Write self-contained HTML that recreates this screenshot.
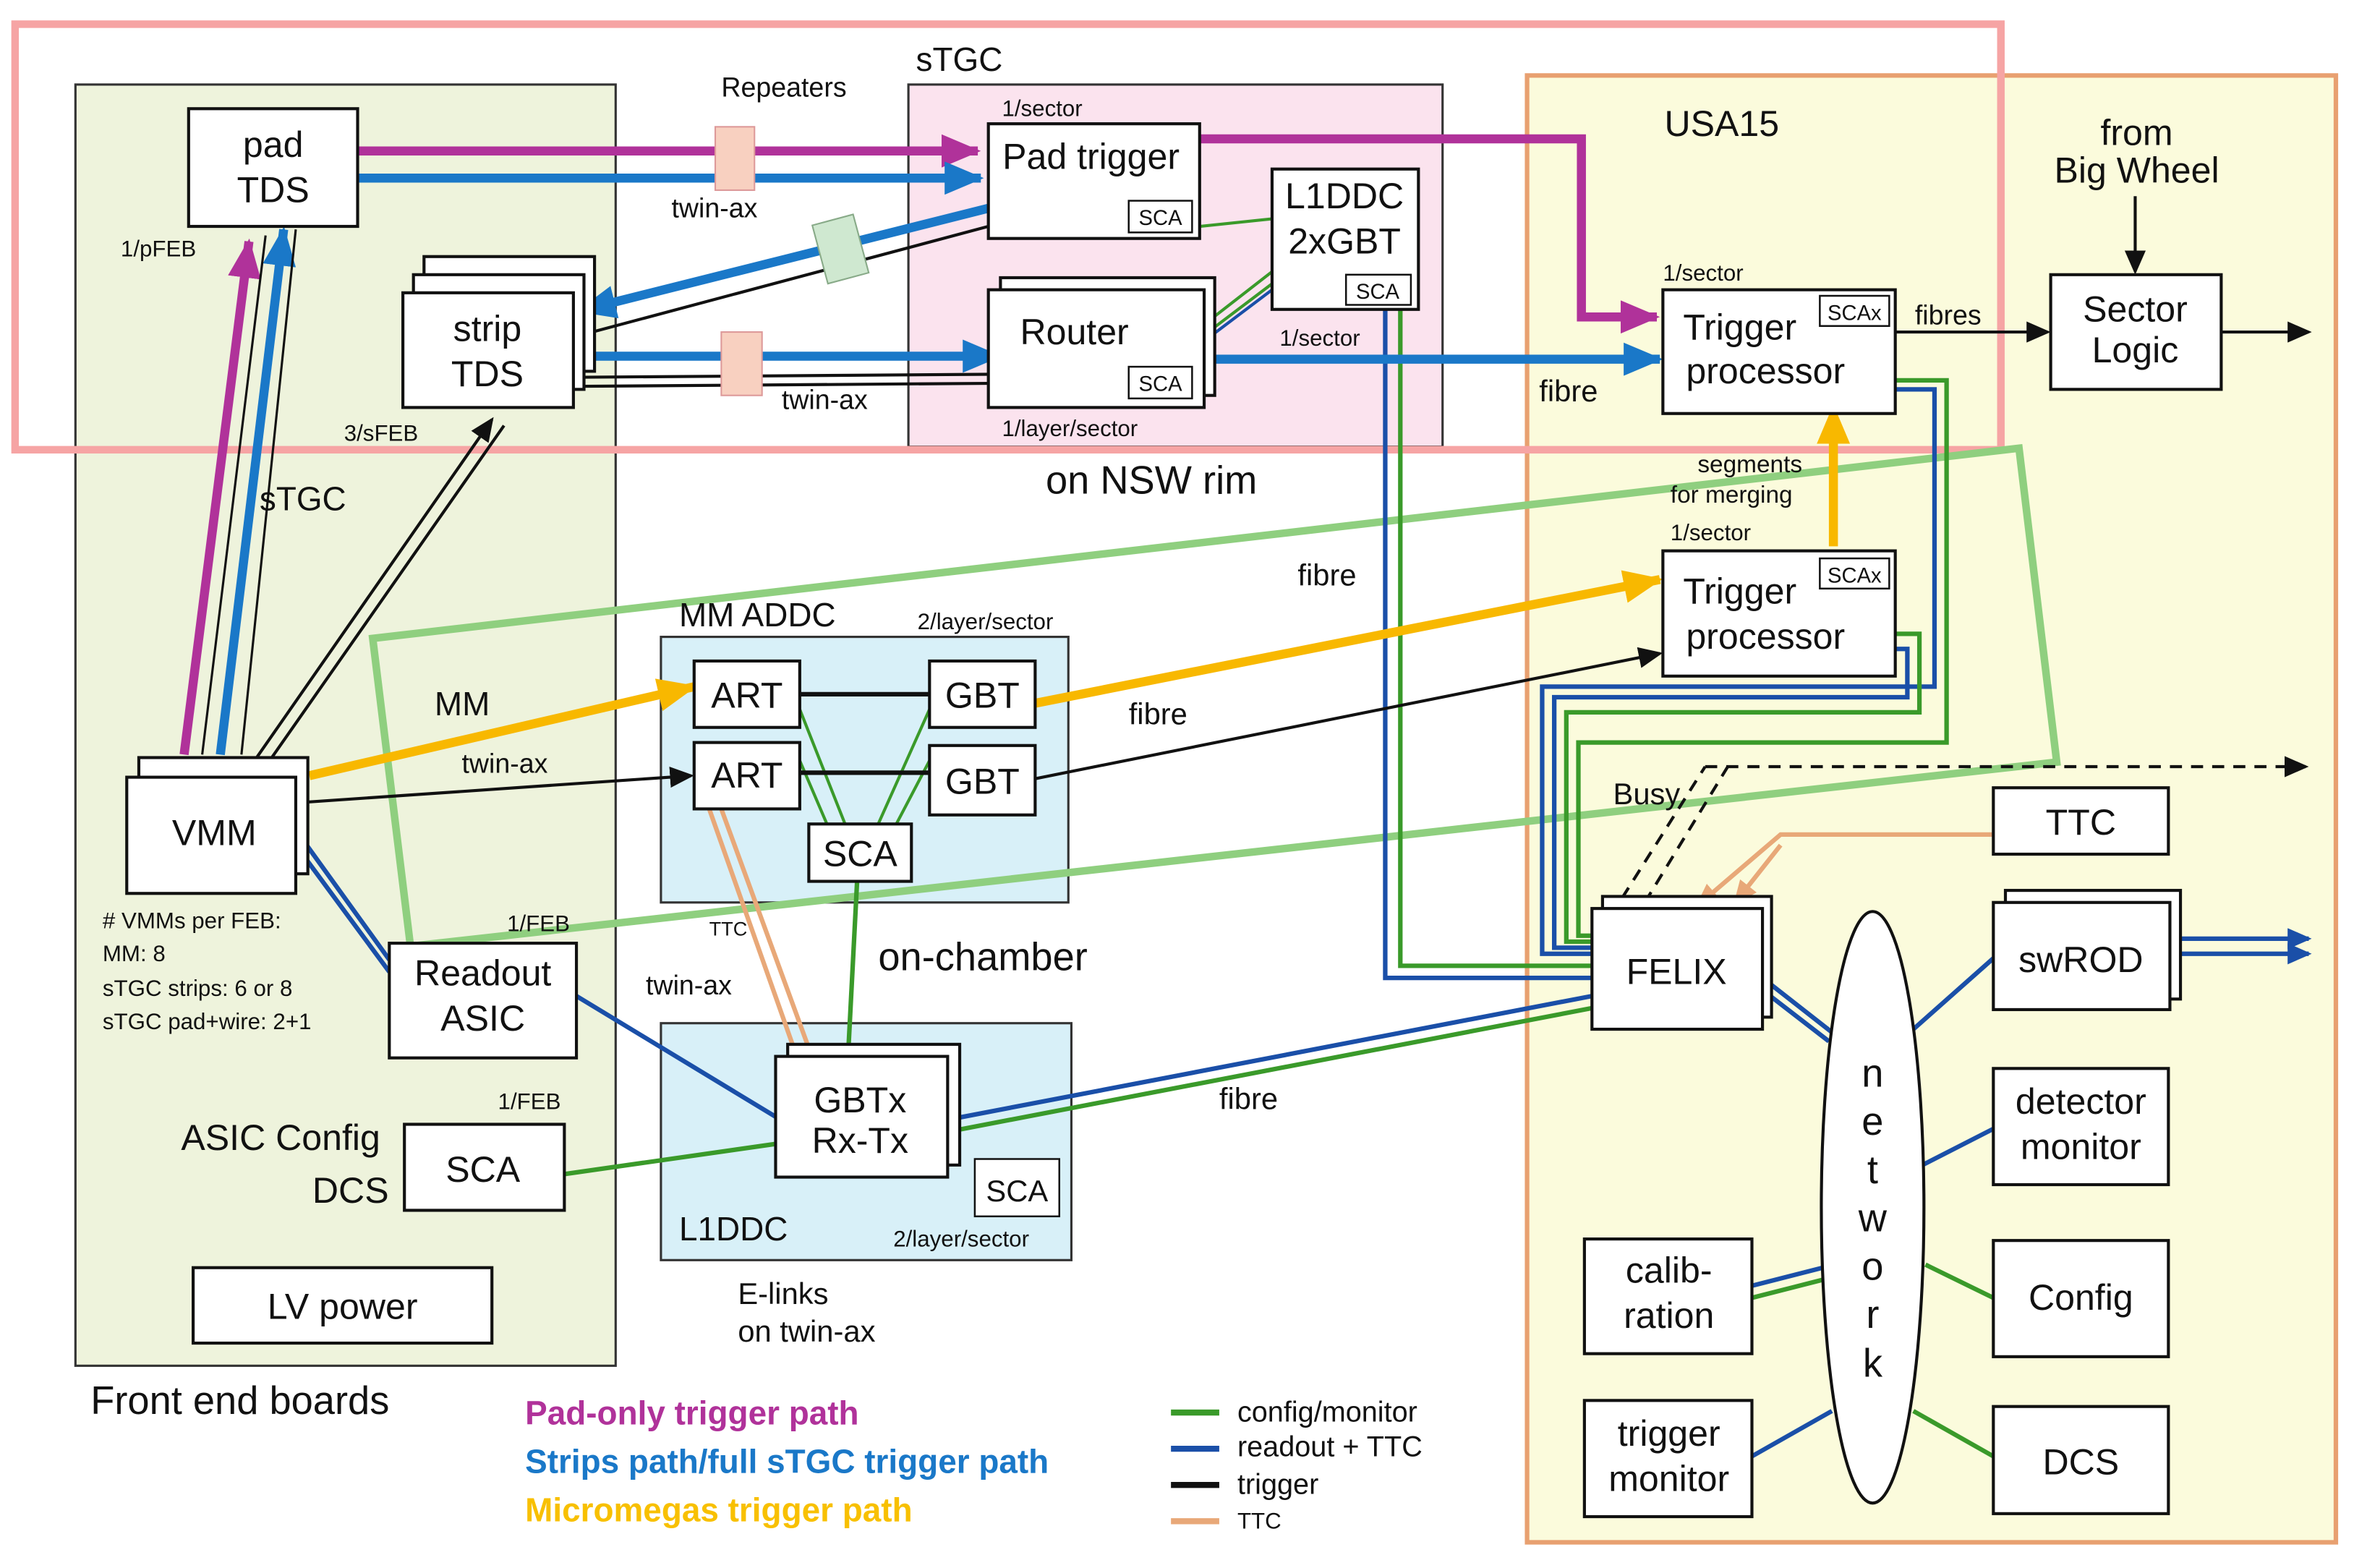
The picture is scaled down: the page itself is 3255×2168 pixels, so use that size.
<!DOCTYPE html>
<html><head><meta charset="utf-8"><style>
html,body{margin:0;padding:0;background:#fff}
svg{display:block}
text{font-family:"Liberation Sans",sans-serif;fill:#111}
</style></head><body>
<svg width="3255" height="2168" viewBox="0 0 1560 1039" xmlns="http://www.w3.org/2000/svg">
<defs>
<marker id="abk" markerWidth="16" markerHeight="14" refX="14" refY="7" orient="auto" markerUnits="userSpaceOnUse"><path d="M0,0 L16,7 L0,14z" fill="#111"/></marker>
<marker id="am" markerWidth="26" markerHeight="22" refX="24" refY="11" orient="auto" markerUnits="userSpaceOnUse"><path d="M0,0 L26,11 L0,22z" fill="#b0329a"/></marker>
<marker id="abl" markerWidth="26" markerHeight="22" refX="24" refY="11" orient="auto" markerUnits="userSpaceOnUse"><path d="M0,0 L26,11 L0,22z" fill="#1a78c8"/></marker>
<marker id="ay" markerWidth="26" markerHeight="22" refX="24" refY="11" orient="auto" markerUnits="userSpaceOnUse"><path d="M0,0 L26,11 L0,22z" fill="#f8b800"/></marker>
<marker id="ad" markerWidth="16" markerHeight="14" refX="14" refY="7" orient="auto" markerUnits="userSpaceOnUse"><path d="M0,0 L16,7 L0,14z" fill="#1a4fa8"/></marker>
<marker id="ao" markerWidth="16" markerHeight="14" refX="14" refY="7" orient="auto" markerUnits="userSpaceOnUse"><path d="M0,0 L16,7 L0,14z" fill="#e8a878"/></marker>
</defs>

<rect x="50" y="56" width="358" height="849" fill="#eef3dc" stroke="#333" stroke-width="1.5"/>
<rect x="602" y="56" width="354" height="240" fill="#fbe3ee" stroke="#333" stroke-width="1.5"/>
<rect x="1012" y="50" width="536" height="972" fill="#fbfbdc" stroke="#e8a070" stroke-width="3"/>
<rect x="438" y="422" width="270" height="176" fill="#d8f0f8" stroke="#333" stroke-width="1.5"/>
<rect x="438" y="678" width="272" height="157" fill="#d8f0f8" stroke="#333" stroke-width="1.5"/>
<rect x="10" y="16" width="1316" height="282" fill="none" stroke="#f6a4a4" stroke-width="5"/>
<polygon points="247,423 1338,297 1363,505 272,627" fill="none" stroke="#8fcf7f" stroke-width="5"/>

<g fill="none" stroke-width="3">
<path d="M918,205 V648 H1055" stroke="#1a4fa8"/>
<path d="M928,205 V640 H1055" stroke="#3a9a2a"/>
<path d="M1256,258 H1282 V455 H1022 V632 H1055" stroke="#1a4fa8"/>
<path d="M1256,252 H1290 V492 H1046 V620 H1058" stroke="#3a9a2a"/>
<path d="M1256,430 H1264 V462 H1030 V628 H1055" stroke="#1a4fa8"/>
<path d="M1256,420 H1272 V472 H1038 V624 H1055" stroke="#3a9a2a"/>
<path d="M628,742 L1055,660" stroke="#1a4fa8"/>
<path d="M628,750 L1055,668" stroke="#3a9a2a"/>
<path d="M1168,648 L1214,684" stroke="#1a4fa8"/>
<path d="M1168,656 L1212,690" stroke="#1a4fa8"/>
<path d="M1321,635 L1268,682" stroke="#1a4fa8"/>
<path d="M1321,748 L1274,772" stroke="#1a4fa8"/>
<path d="M1321,860 L1276,838" stroke="#3a9a2a"/>
<path d="M1161,852 L1208,840" stroke="#1a4fa8"/>
<path d="M1161,860 L1208,848" stroke="#3a9a2a"/>
<path d="M1321,965 L1268,935" stroke="#3a9a2a"/>
<path d="M1161,965 L1214,935" stroke="#1a4fa8"/>
<path d="M1445,622 L1530,622" stroke="#1a4fa8" marker-end="url(#ad)"/>
<path d="M1445,632 L1530,632" stroke="#1a4fa8" marker-end="url(#ad)"/>
<path d="M196,550 L258,636" stroke="#1a4fa8"/>
<path d="M196,560 L258,644" stroke="#1a4fa8"/>
<path d="M382,660 L514,740" stroke="#1a4fa8"/>
<path d="M374,778 L514,758" stroke="#3a9a2a"/>
<path d="M568,584 L562,700" stroke="#3a9a2a"/>
<path d="M530,470 L560,546 M530,504 L548,546 M616,470 L582,546 M616,504 L594,546" stroke="#3a9a2a" stroke-width="2"/>
<path d="M470,536 L528,700 M478,536 L538,700" stroke="#e8a878"/>
<path d="M798,215 L843,180 M798,222 L843,188" stroke="#3a9a2a" stroke-width="2"/>
<path d="M795,150 L843,145" stroke="#3a9a2a" stroke-width="2"/>
<path d="M798,226 L843,192" stroke="#1a4fa8" stroke-width="2"/>
</g>

<g fill="none" stroke="#111" stroke-width="2">
<path d="M530,460 H616 M530,512 H616" stroke-width="3"/>
<path d="M196,532 L458,514" marker-end="url(#abk)"/>
<path d="M686,516 L1100,433" marker-end="url(#abk)"/>
<path d="M168,505 L326,278" marker-end="url(#abk)"/>
<path d="M178,505 L334,282"/>
<path d="M380,250 L655,248 M380,256 L655,254"/>
<path d="M655,150 L385,222"/>
<path d="M1256,220 L1357,220" marker-end="url(#abk)"/>
<path d="M1472,220 L1530,220" marker-end="url(#abk)"/>
<path d="M1415,130 L1415,180" marker-end="url(#abk)"/>
<path d="M1130,508 H1528" stroke-dasharray="8,6" marker-end="url(#abk)"/>
<path d="M1075,595 L1130,508 M1090,598 L1145,508" stroke-dasharray="8,6"/>
</g>
<path d="M1321,553 H1180 L1125,600" fill="none" stroke="#e8a878" stroke-width="3" marker-end="url(#ao)"/>
<path d="M1180,560 L1150,598" fill="none" stroke="#e8a878" stroke-width="3" marker-end="url(#ao)"/>

<g fill="none" stroke-width="6">
<path d="M237,100 L648,100" stroke="#b0329a" marker-end="url(#am)"/>
<path d="M795,92 H1048 V210 H1098" stroke="#b0329a" marker-end="url(#am)"/>
<path d="M122,500 L165,160" stroke="#b0329a" marker-end="url(#am)"/>
<path d="M237,118 L650,118" stroke="#1a78c8" marker-end="url(#abl)"/>
<path d="M146,500 L188,152" stroke="#1a78c8" marker-end="url(#abl)"/>
<path d="M655,138 L384,206" stroke="#1a78c8" marker-end="url(#abl)"/>
<path d="M380,236 L662,236" stroke="#1a78c8" marker-end="url(#abl)"/>
<path d="M805,238 L1100,238" stroke="#1a78c8" marker-end="url(#abl)"/>
<path d="M205,514 L460,455" stroke="#f8b800" marker-end="url(#ay)"/>
<path d="M686,466 L1100,384" stroke="#f8b800" marker-end="url(#ay)"/>
<path d="M1215,362 L1215,270" stroke="#f8b800" marker-end="url(#ay)"/>
</g>
<path d="M134,500 L176,156 M160,500 L196,152" stroke="#111" stroke-width="1.5" fill="none"/>

<rect x="474" y="84" width="26" height="42" fill="#f8d0c0" stroke="#d99" stroke-width="1"/>
<rect x="478" y="220" width="27" height="42" fill="#f8d0c0" stroke="#d99" stroke-width="1"/>
<rect x="543" y="145" width="28" height="40" fill="#cfe8d0" stroke="#8a8" stroke-width="1" transform="rotate(-15 557 165)"/>

<g fill="#fff" stroke="#111" stroke-width="2">
<rect x="125" y="72" width="112" height="78"/>
<rect x="281" y="170" width="113" height="76"/><rect x="274" y="182" width="113" height="76"/><rect x="267" y="194" width="113" height="76"/>
<rect x="92" y="502" width="112" height="77"/><rect x="84" y="515" width="112" height="77"/>
<rect x="258" y="625" width="124" height="76"/>
<rect x="268" y="745" width="106" height="57"/>
<rect x="128" y="840" width="198" height="50"/>
<rect x="655" y="82" width="140" height="76"/>
<rect x="843" y="112" width="97" height="93"/>
<rect x="663" y="184" width="142" height="78"/><rect x="655" y="192" width="143" height="78"/>
<rect x="460" y="438" width="70" height="44"/><rect x="616" y="438" width="70" height="44"/>
<rect x="460" y="492" width="70" height="44"/><rect x="616" y="494" width="70" height="46"/>
<rect x="536" y="546" width="68" height="38"/>
<rect x="522" y="692" width="114" height="80"/><rect x="514" y="700" width="114" height="80"/>
<rect x="1102" y="192" width="154" height="82"/>
<rect x="1102" y="365" width="154" height="83"/>
<rect x="1359" y="182" width="113" height="76"/>
<rect x="1062" y="594" width="112" height="80"/><rect x="1055" y="602" width="113" height="80"/>
<rect x="1321" y="522" width="116" height="44"/>
<rect x="1329" y="590" width="116" height="72"/><rect x="1321" y="598" width="117" height="71"/>
<rect x="1321" y="708" width="116" height="77"/>
<rect x="1321" y="822" width="116" height="77"/>
<rect x="1321" y="932" width="116" height="71"/>
<rect x="1050" y="821" width="111" height="76"/>
<rect x="1050" y="928" width="111" height="77"/>
<ellipse cx="1241" cy="800" rx="34" ry="196"/>
</g>
<g fill="#fff" stroke="#111" stroke-width="1.2">
<rect x="748" y="133" width="42" height="21"/><rect x="892" y="182" width="43" height="20"/>
<rect x="748" y="243" width="42" height="21"/><rect x="646" y="768" width="56" height="38"/>
<rect x="1206" y="196" width="46" height="20"/><rect x="1206" y="370" width="46" height="20"/>
</g>

<g font-size="24" text-anchor="middle">
<text x="181" y="104">pad</text><text x="181" y="134">TDS</text>
<text x="323" y="226">strip</text><text x="323" y="256">TDS</text>
<text x="142" y="560">VMM</text>
<text x="320" y="653">Readout</text><text x="320" y="683">ASIC</text>
<text x="320" y="783">SCA</text>
<text x="227" y="874">LV power</text>
<text x="723" y="112">Pad trigger</text>
<text x="891" y="138">L1DDC</text><text x="891" y="168">2xGBT</text>
<text x="712" y="228">Router</text>
<text x="495" y="469">ART</text><text x="651" y="469">GBT</text>
<text x="495" y="522">ART</text><text x="651" y="526">GBT</text>
<text x="570" y="574">SCA</text>
<text x="570" y="737">GBTx</text><text x="570" y="764">Rx-Tx</text>
<text x="1153" y="225">Trigger</text><text x="1170" y="254">processor</text>
<text x="1153" y="400">Trigger</text><text x="1170" y="430">processor</text>
<text x="1415" y="213">Sector</text><text x="1415" y="240">Logic</text>
<text x="1111" y="652">FELIX</text>
<text x="1379" y="553">TTC</text>
<text x="1379" y="644">swROD</text>
<text x="1379" y="738">detector</text><text x="1379" y="768">monitor</text>
<text x="1379" y="868">Config</text>
<text x="1379" y="977">DCS</text>
<text x="1106" y="850">calib-</text><text x="1106" y="880">ration</text>
<text x="1106" y="958">trigger</text><text x="1106" y="988">monitor</text>
<text x="1416" y="96">from</text><text x="1416" y="121">Big Wheel</text>
</g>
<g font-size="26" text-anchor="middle">
<text x="1241" y="720">n</text><text x="1241" y="752">e</text><text x="1241" y="784">t</text><text x="1241" y="816">w</text><text x="1241" y="848">o</text><text x="1241" y="880">r</text><text x="1241" y="912">k</text>
</g>
<g font-size="14" text-anchor="middle">
<text x="769" y="149">SCA</text><text x="913" y="198">SCA</text><text x="769" y="259">SCA</text>
<text x="1229" y="212">SCAx</text><text x="1229" y="386">SCAx</text>
</g>
<text x="674" y="796" font-size="20" text-anchor="middle">SCA</text>

<g font-size="18">
<text x="478" y="64">Repeaters</text>
<text x="445" y="144">twin-ax</text>
<text x="518" y="271">twin-ax</text>
<text x="664" y="77" font-size="15">1/sector</text>
<text x="664" y="289" font-size="15">1/layer/sector</text>
<text x="848" y="229" font-size="15">1/sector</text>
<text x="80" y="170" font-size="15">1/pFEB</text>
<text x="228" y="292" font-size="15">3/sFEB</text>
<text x="172" y="338" font-size="22">sTGC</text>
<text x="288" y="474" font-size="22">MM</text>
<text x="306" y="512">twin-ax</text>
<text x="68" y="615" font-size="15">#  VMMs per FEB:</text>
<text x="68" y="637" font-size="15">MM: 8</text>
<text x="68" y="660" font-size="15">sTGC strips: 6 or 8</text>
<text x="68" y="682" font-size="15">sTGC pad+wire: 2+1</text>
<text x="336" y="617" font-size="15">1/FEB</text>
<text x="330" y="735" font-size="15">1/FEB</text>
<text x="120" y="762" font-size="24">ASIC Config</text>
<text x="207" y="797" font-size="24">DCS</text>
<text x="428" y="659">twin-ax</text>
<text x="470" y="620" font-size="13">TTC</text>
<text x="450" y="415" font-size="22">MM ADDC</text>
<text x="608" y="417" font-size="15">2/layer/sector</text>
<text x="450" y="822" font-size="22">L1DDC</text>
<text x="592" y="826" font-size="15">2/layer/sector</text>
<text x="748" y="480" font-size="20">fibre</text>
<text x="860" y="388" font-size="20">fibre</text>
<text x="808" y="735" font-size="20">fibre</text>
<text x="489" y="864" font-size="20">E-links</text>
<text x="489" y="889" font-size="20">on twin-ax</text>
<text x="1020" y="266" font-size="20">fibre</text>
<text x="1102" y="186" font-size="15">1/sector</text>
<text x="1125" y="313" font-size="16">segments</text>
<text x="1107" y="333" font-size="16">for merging</text>
<text x="1107" y="358" font-size="15">1/sector</text>
<text x="1269" y="215" font-size="18">fibres</text>
<text x="1069" y="533" font-size="20">Busy</text>
<text x="607" y="47" font-size="22">sTGC</text>
<text x="1103" y="90" font-size="24">USA15</text>
<text x="693" y="327" font-size="26">on NSW rim</text>
<text x="582" y="643" font-size="26">on-chamber</text>
<text x="60" y="937" font-size="26">Front end boards</text>
</g>

<g font-size="22" font-weight="bold">
<text x="348" y="944" style="fill:#b0329a">Pad-only trigger path</text>
<text x="348" y="976" style="fill:#1a78c8">Strips path/full sTGC trigger path</text>
<text x="348" y="1008" style="fill:#f8c000">Micromegas trigger path</text>
</g>
<g stroke-width="4">
<line x1="776" y1="936" x2="808" y2="936" stroke="#3a9a2a"/>
<line x1="776" y1="960" x2="808" y2="960" stroke="#1a4fa8"/>
<line x1="776" y1="984" x2="808" y2="984" stroke="#111"/>
<line x1="776" y1="1008" x2="808" y2="1008" stroke="#e8a878"/>
</g>
<g font-size="19">
<text x="820" y="942">config/monitor</text>
<text x="820" y="965">readout + TTC</text>
<text x="820" y="990">trigger</text>
<text x="820" y="1013" font-size="15">TTC</text>
</g>
</svg>
</body></html>
